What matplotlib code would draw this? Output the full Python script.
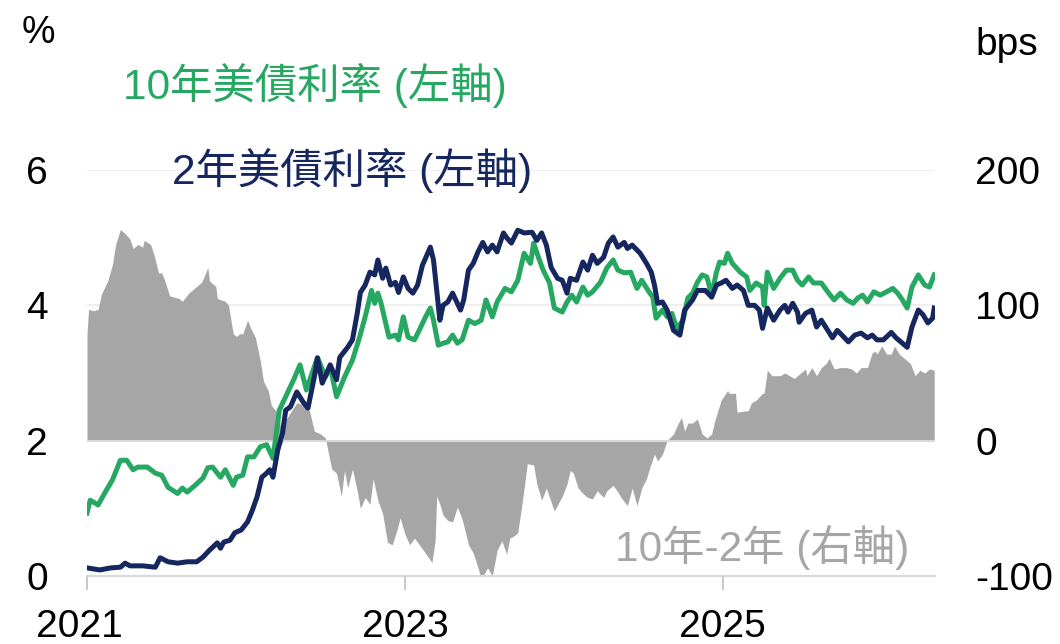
import numpy as np
import matplotlib
matplotlib.use('Agg')
import matplotlib.pyplot as plt
import matplotlib.transforms as mtransforms

plt.rcParams['font.family'] = ['Liberation Sans', 'Noto Sans CJK TC', 'DejaVu Sans']
plt.rcParams['axes.unicode_minus'] = False

# 10年美債利率 (%), time in decimal years
t10 = [2021.00, 2021.02, 2021.07, 2021.11, 2021.16, 2021.21, 2021.25, 2021.29, 2021.32, 2021.38,
       2021.43, 2021.47, 2021.51, 2021.57, 2021.60, 2021.63, 2021.68, 2021.73, 2021.76, 2021.79,
       2021.84, 2021.87, 2021.92, 2021.94, 2021.98, 2022.01, 2022.05, 2022.09, 2022.13, 2022.17,
       2022.21, 2022.26, 2022.30, 2022.34, 2022.38, 2022.45, 2022.50, 2022.53, 2022.57, 2022.62,
       2022.67, 2022.71, 2022.75, 2022.79, 2022.81, 2022.83, 2022.85, 2022.87, 2022.90, 2022.94,
       2022.96, 2022.99, 2023.02, 2023.06, 2023.09, 2023.13, 2023.16, 2023.18, 2023.21, 2023.24,
       2023.27, 2023.30, 2023.33, 2023.36, 2023.40, 2023.44, 2023.48, 2023.51, 2023.55, 2023.58,
       2023.63, 2023.67, 2023.71, 2023.75, 2023.79, 2023.81, 2023.84, 2023.87, 2023.91, 2023.94,
       2023.99, 2024.02, 2024.05, 2024.08, 2024.12, 2024.15, 2024.18, 2024.23, 2024.27, 2024.31,
       2024.34, 2024.38, 2024.42, 2024.46, 2024.49, 2024.53, 2024.56, 2024.58, 2024.62, 2024.65,
       2024.68, 2024.71, 2024.75, 2024.78, 2024.81, 2024.84, 2024.87, 2024.90, 2024.93, 2024.96,
       2024.98, 2025.01, 2025.03, 2025.06, 2025.11, 2025.15, 2025.17, 2025.21, 2025.25, 2025.26,
       2025.28, 2025.32, 2025.36, 2025.40, 2025.44, 2025.47, 2025.50, 2025.54, 2025.57, 2025.62,
       2025.66, 2025.70, 2025.74, 2025.78, 2025.82, 2025.85, 2025.88, 2025.91, 2025.95, 2025.99,
       2026.03, 2026.07, 2026.10, 2026.13, 2026.16, 2026.19, 2026.23, 2026.27, 2026.30, 2026.33]
y10 = [0.93, 1.12, 1.05, 1.22, 1.42, 1.71, 1.71, 1.57, 1.61, 1.61,
       1.52, 1.49, 1.31, 1.22, 1.30, 1.24, 1.34, 1.45, 1.60, 1.61,
       1.46, 1.57, 1.34, 1.46, 1.49, 1.76, 1.76, 1.91, 1.94, 1.74,
       2.45, 2.70, 2.90, 3.12, 2.75, 3.23, 2.94, 3.09, 2.65, 2.94,
       3.19, 3.49, 3.83, 4.22, 4.03, 4.18, 4.03, 3.83, 3.53, 3.56,
       3.49, 3.83, 3.53, 3.49, 3.63, 3.83, 3.96, 3.78, 3.41, 3.44,
       3.46, 3.56, 3.44, 3.49, 3.78, 3.73, 3.78, 4.08, 3.83, 4.05,
       4.25, 4.20, 4.37, 4.77, 4.62, 4.92, 4.71, 4.52, 4.33, 3.96,
       3.90, 4.05, 4.15, 4.05, 4.27, 4.15, 4.20, 4.34, 4.55, 4.67,
       4.52, 4.48, 4.49, 4.25, 4.37, 4.22, 4.12, 3.81, 3.93, 3.83,
       3.88, 3.66, 3.78, 4.11, 4.18, 4.34, 4.45, 4.42, 4.15, 4.49,
       4.64, 4.62, 4.77, 4.62, 4.49, 4.42, 4.22, 4.33, 4.27, 4.00,
       4.49, 4.25, 4.40, 4.52, 4.52, 4.37, 4.30, 4.42, 4.33, 4.33,
       4.20, 4.08, 4.18, 4.08, 4.03, 4.11, 4.15, 4.05, 4.20, 4.15,
       4.20, 4.25, 4.18, 4.08, 3.96, 4.27, 4.45, 4.30, 4.27, 4.45]

# 2年美債利率 (%)
t2 = [2021.00, 2021.08, 2021.15, 2021.21, 2021.24, 2021.27, 2021.35, 2021.43, 2021.46, 2021.51,
      2021.57, 2021.63, 2021.69, 2021.73, 2021.77, 2021.82, 2021.84, 2021.86, 2021.90, 2021.93,
      2021.97, 2022.01, 2022.04, 2022.07, 2022.10, 2022.13, 2022.15, 2022.17, 2022.20, 2022.23,
      2022.25, 2022.28, 2022.32, 2022.36, 2022.39, 2022.43, 2022.45, 2022.48, 2022.53, 2022.57,
      2022.59, 2022.64, 2022.67, 2022.70, 2022.72, 2022.75, 2022.78, 2022.81, 2022.83, 2022.86,
      2022.88, 2022.91, 2022.94, 2022.96, 2022.99, 2023.02, 2023.05, 2023.08, 2023.11, 2023.16,
      2023.18, 2023.20, 2023.22, 2023.24, 2023.27, 2023.30, 2023.35, 2023.37, 2023.40, 2023.43,
      2023.46, 2023.49, 2023.52, 2023.55, 2023.58, 2023.62, 2023.64, 2023.67, 2023.71, 2023.75,
      2023.80, 2023.83, 2023.86, 2023.89, 2023.92, 2023.96, 2023.99, 2024.02, 2024.04, 2024.08,
      2024.12, 2024.15, 2024.18, 2024.21, 2024.25, 2024.28, 2024.31, 2024.34, 2024.38, 2024.40,
      2024.43, 2024.48, 2024.52, 2024.55, 2024.57, 2024.59, 2024.62, 2024.65, 2024.69, 2024.73,
      2024.76, 2024.81, 2024.84, 2024.89, 2024.93, 2024.96, 2024.99, 2025.02, 2025.06, 2025.09,
      2025.13, 2025.16, 2025.20, 2025.23, 2025.25, 2025.28, 2025.32, 2025.36, 2025.39, 2025.41,
      2025.44, 2025.47, 2025.48, 2025.52, 2025.56, 2025.59, 2025.62, 2025.66, 2025.69, 2025.72,
      2025.75, 2025.79, 2025.83, 2025.87, 2025.91, 2025.94, 2025.97, 2026.01, 2026.06, 2026.09,
      2026.13, 2026.16, 2026.19, 2026.23, 2026.26, 2026.29, 2026.32, 2026.33]
y2 = [0.12, 0.09, 0.12, 0.13, 0.19, 0.15, 0.15, 0.13, 0.27, 0.21,
      0.19, 0.21, 0.21, 0.28, 0.38, 0.49, 0.41, 0.50, 0.53, 0.64,
      0.68, 0.80, 0.97, 1.17, 1.46, 1.52, 1.57, 1.46, 1.86, 2.11,
      2.45, 2.50, 2.72, 2.57, 2.48, 2.94, 3.22, 2.85, 3.12, 2.90,
      3.23, 3.38, 3.49, 3.88, 4.19, 4.30, 4.49, 4.45, 4.67, 4.40,
      4.55, 4.30, 4.34, 4.19, 4.42, 4.25, 4.18, 4.30, 4.59, 4.86,
      4.67, 4.22, 3.78, 4.00, 4.05, 4.18, 3.93, 4.08, 4.52, 4.62,
      4.79, 4.93, 4.79, 4.89, 4.79, 5.07, 5.00, 4.92, 5.11, 5.07,
      5.08, 4.96, 5.07, 4.89, 4.56, 4.40, 4.37, 4.18, 4.40, 4.37,
      4.64, 4.52, 4.74, 4.62, 4.71, 4.92, 5.01, 4.86, 4.93, 4.84,
      4.89, 4.77, 4.62, 4.49, 4.30, 4.03, 4.05, 3.93, 3.63, 3.56,
      3.93, 4.08, 4.22, 4.22, 4.12, 4.30, 4.33, 4.37, 4.25, 4.30,
      4.22, 4.00, 4.00, 3.93, 3.66, 3.96, 3.78, 3.93, 4.00, 3.90,
      4.03, 3.90, 3.75, 3.88, 3.93, 3.68, 3.78, 3.63, 3.52, 3.63,
      3.56, 3.46, 3.56, 3.59, 3.52, 3.56, 3.49, 3.49, 3.60, 3.52,
      3.44, 3.38, 3.68, 3.93, 3.86, 3.74, 3.81, 3.96]

# 10年-2年 (bps)
ts = [2021.00, 2021.01, 2021.04, 2021.07, 2021.09, 2021.13, 2021.16, 2021.18, 2021.21, 2021.24,
      2021.27, 2021.29, 2021.32, 2021.35, 2021.36, 2021.40, 2021.42, 2021.45, 2021.47, 2021.49,
      2021.52, 2021.55, 2021.58, 2021.60, 2021.64, 2021.68, 2021.72, 2021.74, 2021.76, 2021.77,
      2021.81, 2021.82, 2021.87, 2021.89, 2021.92, 2021.94, 2021.96, 2021.98, 2022.01, 2022.03,
      2022.06, 2022.09, 2022.11, 2022.14, 2022.16, 2022.19, 2022.21, 2022.23, 2022.25, 2022.28,
      2022.32, 2022.35, 2022.38, 2022.40, 2022.43, 2022.47, 2022.50, 2022.52, 2022.54, 2022.57,
      2022.60, 2022.62, 2022.64, 2022.67, 2022.70, 2022.72, 2022.75, 2022.78, 2022.80, 2022.83,
      2022.86, 2022.89, 2022.92, 2022.95, 2022.97, 2023.00, 2023.03, 2023.06, 2023.11, 2023.14,
      2023.17, 2023.19, 2023.20, 2023.22, 2023.24, 2023.27, 2023.30, 2023.33, 2023.36, 2023.40,
      2023.43, 2023.46, 2023.48, 2023.52, 2023.55, 2023.58, 2023.61, 2023.64, 2023.66, 2023.69,
      2023.71, 2023.74, 2023.77, 2023.81, 2023.83, 2023.86, 2023.89, 2023.91, 2023.94, 2023.99,
      2024.02, 2024.04, 2024.06, 2024.09, 2024.12, 2024.15, 2024.18, 2024.21, 2024.25, 2024.27,
      2024.31, 2024.34, 2024.36, 2024.40, 2024.43, 2024.46, 2024.49, 2024.52, 2024.54, 2024.57,
      2024.59, 2024.62, 2024.65, 2024.69, 2024.72, 2024.74, 2024.76, 2024.78, 2024.81, 2024.84,
      2024.87, 2024.90, 2024.93, 2024.95, 2024.99, 2025.03, 2025.04, 2025.08, 2025.09, 2025.14,
      2025.16, 2025.18, 2025.21, 2025.25, 2025.26, 2025.28, 2025.31, 2025.36, 2025.39, 2025.42,
      2025.45, 2025.48, 2025.52, 2025.53, 2025.56, 2025.59, 2025.62, 2025.65, 2025.67, 2025.70,
      2025.74, 2025.78, 2025.81, 2025.84, 2025.87, 2025.91, 2025.94, 2025.96, 2025.97, 2026.00,
      2026.03, 2026.06, 2026.08, 2026.11, 2026.14, 2026.18, 2026.21, 2026.24, 2026.27, 2026.30,
      2026.33]
spread = [79, 97, 96, 97, 108, 118, 130, 145, 156, 153,
          149, 142, 145, 143, 148, 145, 138, 124, 124, 118,
          107, 106, 105, 103, 109, 113, 117, 122, 128, 118,
          114, 105, 103, 100, 79, 77, 79, 79, 89, 83,
          76, 59, 44, 37, 26, 22, 17, -3, 15, 21,
          28, 27, 24, 22, 7, 5, 2, -10, -21, -24,
          -41, -22, -35, -21, -37, -50, -42, -47, -28, -44,
          -54, -75, -77, -66, -57, -69, -77, -72, -80, -85,
          -90, -74, -41, -47, -55, -59, -60, -49, -58, -77,
          -83, -94, -102, -94, -100, -81, -74, -84, -72, -70,
          -68, -44, -17, -18, -32, -44, -35, -42, -52, -41,
          -32, -22, -24, -35, -39, -42, -43, -37, -42, -37,
          -33, -38, -42, -48, -35, -48, -35, -28, -20, -10,
          -15, -10, 0, 5, 13, 17, 7, 13, 13, 16,
          5, 2, 5, 15, 30, 37, 35, 35, 21, 22,
          22, 28, 30, 35, 35, 52, 48, 48, 50, 48,
          46, 49, 53, 48, 54, 48, 54, 57, 61, 53,
          54, 54, 53, 50, 54, 54, 65, 66, 64, 70,
          64, 64, 70, 64, 61, 57, 48, 52, 50, 53,
          52]

year_ticks = [2021, 2023, 2025]
left_ticks = [0, 2, 4, 6]
right_ticks = [-100, 0, 100, 200]

green = '#27A862'
navy = '#16265E'
grey = '#A6A6A6'

fig = plt.figure(figsize=(10.6, 6.44), dpi=100)
ax = fig.add_axes([87 / 1060, 1 - 576 / 644, (935 - 87) / 1060, (576 - 170) / 644])
ax2 = ax.twinx()
ax.set_zorder(ax2.get_zorder() + 1)
ax.patch.set_visible(False)

# spread area on right axis
for v in [100, 200]:
    ax2.axhline(v, color='#EFEFEF', lw=1.5, zorder=0)
ax2.fill_between(ts, 0, spread, color=grey, lw=0, zorder=1)
ax2.axhline(0, color='#D9D9D9', lw=1.5, zorder=3)
ax2.set_ylim(-100, 200)
ax2.set_yticks(right_ticks)

# yields on left axis
ax.plot(t10, y10, color=green, lw=3.6, solid_joinstyle='round')
ax.plot(t2, y2, color=navy, lw=3.6, solid_joinstyle='round')
ax.set_ylim(0, 6)
ax.set_yticks(left_ticks)
ax.set_xlim(2021, 2026.335)
ax.set_xticks(year_ticks)
ax.set_xticklabels([str(y) for y in year_ticks])

for a in (ax, ax2):
    for s in ['top', 'left', 'right']:
        a.spines[s].set_visible(False)
    a.spines['bottom'].set_color('#D9D9D9')
    a.spines['bottom'].set_linewidth(1.5)

ax.tick_params(axis='y', length=0, pad=28, labelsize=28)
ax2.tick_params(axis='y', length=0, pad=29, labelsize=28)
ax.tick_params(axis='x', length=10, width=1.2, color='#BFBFBF', pad=14, labelsize=28)
ax2.tick_params(axis='x', length=0)

# first year label sits a little left of its tick
first = ax.get_xticklabels()[0]
first.set_transform(first.get_transform() + mtransforms.ScaledTranslation(-8 / 100, 0, fig.dpi_scale_trans))

fig.text(22 / 1060, 1 - 33 / 644, '%', fontsize=27, ha='left', va='center')
fig.text(975 / 1060, 1 - 45 / 644, 'bps', fontsize=28, ha='left', va='center')
fig.text(123 / 1060, 1 - 85 / 644, '10年美債利率 (左軸)', color=green, fontsize=30.5, ha='left', va='center')
fig.text(172 / 1060, 1 - 170 / 644, '2年美債利率 (左軸)', color=navy, fontsize=30.5, ha='left', va='center')
fig.text(615 / 1060, 1 - 548 / 644, '10年-2年 (右軸)', color=grey, fontsize=30.5, ha='left', va='center')

fig.savefig('out.png', dpi=100)
